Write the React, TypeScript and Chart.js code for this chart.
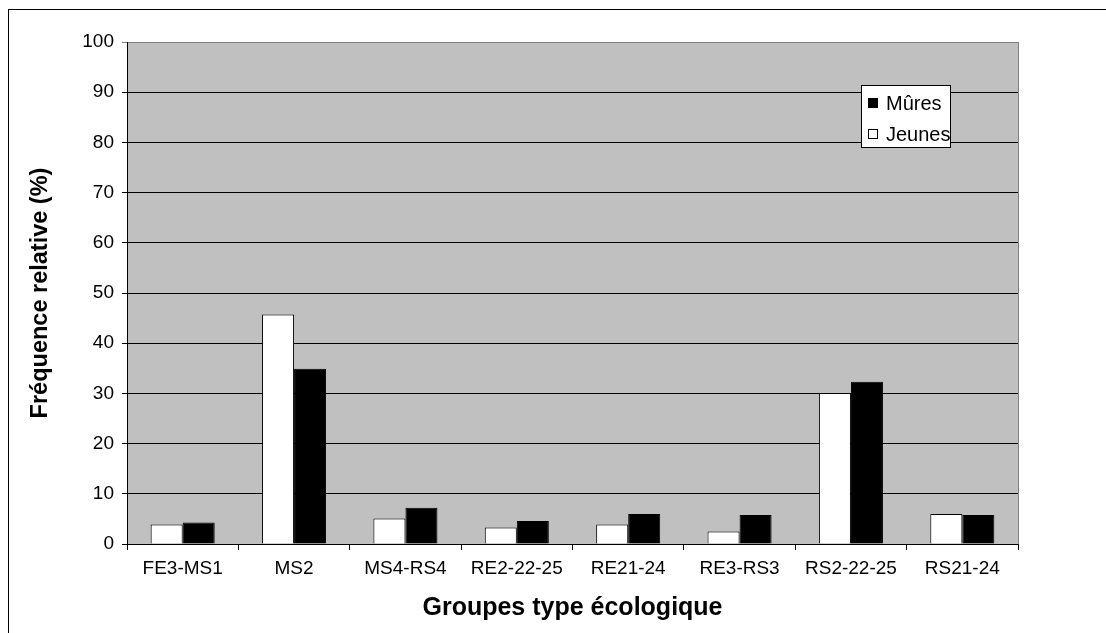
import React, { useEffect, useRef } from "react";
import { Chart, registerables } from "chart.js";

Chart.register(...registerables);

const categories = ["FE3-MS1", "MS2", "MS4-RS4", "RE2-22-25", "RE21-24", "RE3-RS3", "RS2-22-25", "RS21-24"];
const jeunes = [3.9, 45.7, 5.1, 3.3, 3.9, 2.5, 30.1, 6.0];
const mures = [4.3, 34.9, 7.2, 4.6, 6.0, 5.8, 32.3, 5.8];
const yMin = 0;
const yMax = 100;
const yStep = 10;
const xTitle = "Groupes type écologique";
const yTitle = "Fréquence relative (%)";
const legendItems = [
  { label: "Mûres", fill: "#000000" },
  { label: "Jeunes", fill: "#ffffff" },
];

const FONT = "'Liberation Sans', Arial, sans-serif";

const plotPlugin = {
  id: "plotDecor",
  beforeDraw(chart: any) {
    const { ctx, chartArea } = chart;
    const { left, top, width, height } = chartArea;
    ctx.save();
    ctx.fillStyle = "#c0c0c0";
    ctx.fillRect(left, top, width, height);
    ctx.restore();
  },
  afterDraw(chart: any) {
    const { ctx, chartArea } = chart;
    ctx.save();
    // right border of plot area
    ctx.strokeStyle = "#808080";
    ctx.lineWidth = 1;
    ctx.beginPath();
    const rx = Math.round(chartArea.right) + 0.5;
    ctx.moveTo(rx, chartArea.top);
    ctx.lineTo(rx, chartArea.bottom);
    ctx.stroke();

    // legend box
    const bx = chartArea.left + 734;
    const by = chartArea.top + 43;
    const bw = 89;
    const bh = 62;
    ctx.fillStyle = "#ffffff";
    ctx.fillRect(bx, by, bw, bh);
    ctx.strokeStyle = "#000000";
    ctx.strokeRect(bx + 0.5, by + 0.5, bw, bh);
    ctx.font = `20px ${FONT}`;
    ctx.textBaseline = "middle";
    ctx.textAlign = "left";
    legendItems.forEach((it, i) => {
      const cy = by + 18 + i * 31;
      ctx.fillStyle = it.fill;
      ctx.fillRect(bx + 7, cy - 5, 10, 10);
      ctx.strokeStyle = "#000000";
      ctx.strokeRect(bx + 7.5, cy - 4.5, 9, 9);
      ctx.fillStyle = "#000000";
      ctx.fillText(it.label, bx + 25, cy + 1);
    });
    ctx.restore();
  },
};

export default function App() {
  const ref = useRef<HTMLCanvasElement | null>(null);

  useEffect(() => {
    if (!ref.current) return;
    const chart = new Chart(ref.current, {
      type: "bar",
      data: {
        labels: categories,
        datasets: [
          {
            label: "Jeunes",
            data: jeunes,
            backgroundColor: "#ffffff",
            borderColor: "#000000",
            borderWidth: 1,
            categoryPercentage: 0.575,
            barPercentage: 1,
          },
          {
            label: "Mûres",
            data: mures,
            backgroundColor: "#000000",
            borderColor: "#000000",
            borderWidth: 1,
            categoryPercentage: 0.575,
            barPercentage: 1,
          },
        ],
      },
      options: {
        animation: false,
        responsive: true,
        maintainAspectRatio: false,
        layout: { padding: { top: 32, right: 88, left: 0, bottom: 0 } },
        plugins: {
          legend: { display: false },
          tooltip: { enabled: false },
          title: { display: false },
        },
        scales: {
          x: {
            afterFit(scale: any) {
              scale.height = 89;
            },
            grid: {
              display: true,
              drawOnChartArea: false,
              drawTicks: true,
              tickLength: 6,
              color: "#000000",
              offset: true,
            },
            border: { display: true, color: "#000000", width: 1 },
            ticks: {
              color: "#000000",
              font: { family: FONT, size: 19 },
              padding: 7,
              maxRotation: 0,
              autoSkip: false,
            },
            title: {
              display: true,
              text: xTitle,
              color: "#000000",
              font: { family: FONT, size: 25, weight: "bold" },
              padding: { top: 0, bottom: 10 },
            },
          },
          y: {
            min: yMin,
            max: yMax,
            afterFit(scale: any) {
              scale.width = 118;
            },
            ticks: {
              stepSize: yStep,
              color: "#000000",
              font: { family: FONT, size: 19 },
              padding: 8,
            },
            grid: {
              color: (c: any) => (c.tick && c.tick.value === yMax ? "#808080" : "#000000"),
              drawTicks: true,
              tickLength: 5,
              lineWidth: 1,
            },
            border: { display: true, color: "#000000", width: 1 },
            title: {
              display: true,
              text: yTitle,
              color: "#000000",
              font: { family: FONT, size: 23.5, weight: "bold" },
              padding: { top: 17, bottom: 0 },
            },
          },
        },
      },
      plugins: [plotPlugin],
    });
    return () => chart.destroy();
  }, []);

  return (
    <div
      style={{
        position: "fixed",
        left: 8,
        top: 9,
        width: 1098,
        height: 624,
        borderLeft: "1px solid #000",
        borderTop: "1px solid #000",
        boxSizing: "border-box",
        background: "#fff",
      }}
    >
      <canvas ref={ref} />
    </div>
  );
}
